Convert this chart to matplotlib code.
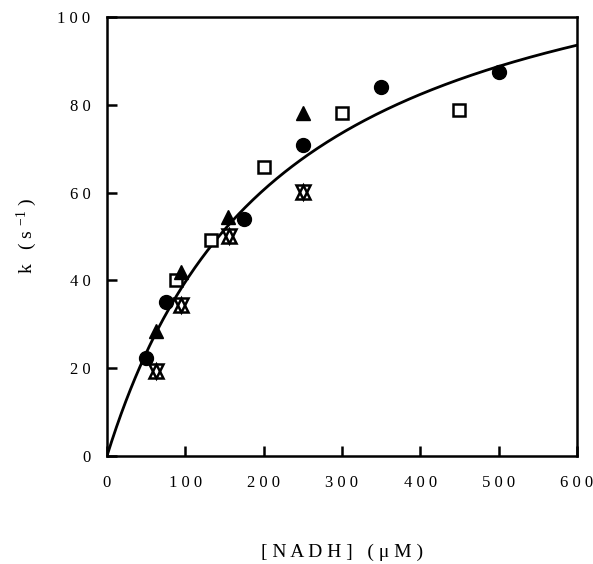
import numpy as np
import matplotlib
matplotlib.use("Agg")
import matplotlib.pyplot as plt

plt.rcParams['font.family'] = ['Liberation Serif', 'DejaVu Serif']
plt.rcParams['mathtext.fontset'] = 'custom'
plt.rcParams['mathtext.rm'] = 'Liberation Serif'
plt.rcParams['mathtext.it'] = 'Liberation Serif:italic'

# datos
nadh_circ = [50, 75, 175, 250, 350, 500]
k_circ = [22.3, 35.1, 54.0, 70.8, 84.1, 87.4]

nadh_tri = [62.5, 94, 155, 250]
k_tri = [28.5, 42.0, 54.5, 78.1]

nadh_sq = [87.5, 133, 200, 300, 450]
k_sq = [40.2, 49.2, 65.9, 78.1, 78.8]

nadh_hg = [62.5, 94, 156, 250]
k_hg = [19.4, 34.4, 50.0, 60.2]

# ajuste hiperbolico (Michaelis-Menten)
kmax = 128.5
km = 224.0

fig = plt.figure(figsize=(5.93, 5.64), dpi=100)
ax = fig.add_axes([0.1804, 0.1915, 0.973 - 0.1804, 0.9699 - 0.1915])

s = np.linspace(0, 600, 300)
ax.plot(s, kmax * s / (km + s), color='black', lw=2.0, zorder=2)

# simbolo "reloj de arena": triangulo abierto arriba + abajo
ax.plot(nadh_hg, k_hg, ls='none', marker='^', ms=9.5, mfc='white', mec='black', mew=1.8, zorder=3)
ax.plot(nadh_hg, k_hg, ls='none', marker='v', ms=9.5, mfc='none', mec='black', mew=1.8, zorder=3)
ax.plot(nadh_sq, k_sq, ls='none', marker='s', ms=9, mfc='white', mec='black', mew=1.8, zorder=3)
ax.plot(nadh_tri, k_tri, ls='none', marker='^', ms=10, color='black', zorder=3)
ax.plot(nadh_circ, k_circ, ls='none', marker='o', ms=10, color='black', zorder=3)

ax.set_xlim(0, 600)
ax.set_ylim(0, 100)
ax.set_xticks([0, 100, 200, 300, 400, 500, 600])
ax.set_xticklabels(['0', '1 0 0', '2 0 0', '3 0 0', '4 0 0', '5 0 0', '6 0 0'])
ax.set_yticks([0, 20, 40, 60, 80, 100])
ax.set_yticklabels(['0', '2 0', '4 0', '6 0', '8 0', '1 0 0'])

for sp in ax.spines.values():
    sp.set_linewidth(1.8)
ax.tick_params(axis='both', direction='in', length=7, width=1.8, labelsize=12)
ax.tick_params(axis='x', pad=14)
ax.tick_params(axis='y', pad=12)
ax.tick_params(top=False, right=False)

ax.set_xlabel('[ N A D H ]   ( μ M )', fontsize=14)
ax.set_ylabel('k   ( s $^{-1}$ )', fontsize=14)
ax.xaxis.label.set_va('center')
ax.yaxis.label.set_va('center')
ax.xaxis.set_label_coords(0.5, -0.219)
ax.yaxis.set_label_coords(-0.17, 0.5)

plt.savefig("out.png", dpi=100)
